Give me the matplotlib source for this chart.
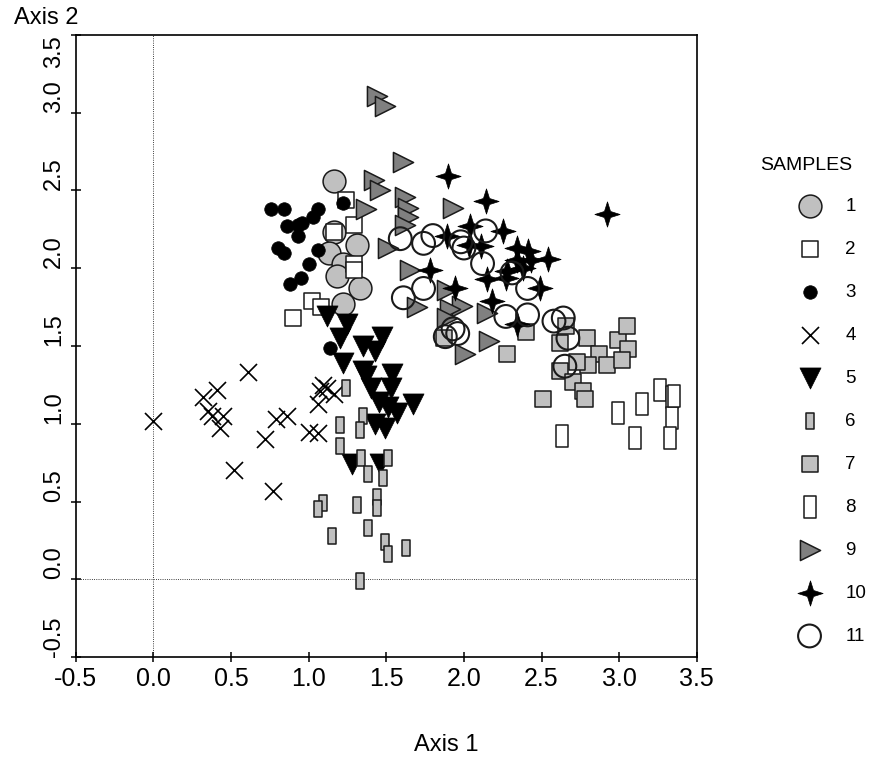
import numpy as np
import matplotlib
matplotlib.use('Agg')
import matplotlib.pyplot as plt
from matplotlib.path import Path

plt.rcParams['font.family'] = ['Liberation Sans', 'DejaVu Sans']

# Puntos de cada muestra (Axis 1, Axis 2)
x1 = [1.16, 1.16, 1.31, 1.13, 1.22, 1.18, 1.33, 1.22]
y1 = [2.56, 2.23, 2.15, 2.10, 2.03, 1.95, 1.87, 1.77]

x2 = [1.24, 1.29, 1.16, 1.29, 1.29, 1.02, 1.08, 0.90]
y2 = [2.44, 2.28, 2.23, 2.03, 1.99, 1.79, 1.75, 1.68]

x3 = [0.76, 0.84, 0.86, 0.93, 0.96, 0.93, 1.06, 1.03, 1.22, 0.80, 0.84, 1.00, 1.06, 0.95, 0.88, 1.14]
y3 = [2.38, 2.38, 2.27, 2.28, 2.29, 2.21, 2.38, 2.33, 2.42, 2.13, 2.10, 2.03, 2.12, 1.94, 1.90, 1.49]

x4 = [0.00, 0.32, 0.41, 0.61, 0.35, 0.38, 0.45, 0.43, 0.52, 0.72,
      0.77, 0.79, 0.86, 1.00, 1.06, 1.06, 1.09, 1.07, 1.16, 1.12]
y4 = [1.02, 1.17, 1.22, 1.33, 1.08, 1.05, 1.05, 0.97, 0.70, 0.90,
      0.57, 1.03, 1.05, 0.95, 0.94, 1.13, 1.25, 1.21, 1.19, 1.23]

x5 = [1.12, 1.25, 1.20, 1.35, 1.43, 1.47, 1.22, 1.35, 1.40, 1.54,
      1.53, 1.51, 1.57, 1.67, 1.43, 1.49, 1.28, 1.46, 1.45, 1.37]
y5 = [1.69, 1.64, 1.55, 1.50, 1.47, 1.56, 1.39, 1.34, 1.23, 1.32,
      1.23, 1.11, 1.07, 1.13, 1.00, 0.97, 0.74, 0.74, 1.14, 1.31]

x6 = [1.24, 1.35, 1.20, 1.33, 1.20, 1.34, 1.51, 1.38, 1.48, 1.09,
      1.06, 1.31, 1.44, 1.44, 1.38, 1.15, 1.49, 1.51, 1.63, 1.33]
y6 = [1.23, 1.05, 0.99, 0.96, 0.86, 0.78, 0.78, 0.68, 0.65, 0.49,
      0.45, 0.48, 0.53, 0.46, 0.33, 0.28, 0.24, 0.16, 0.20, -0.01]

x7 = [2.40, 2.28, 2.62, 2.66, 2.79, 2.87, 2.99, 3.05, 3.06, 2.92,
      3.02, 2.80, 2.73, 2.62, 2.70, 2.77, 2.78, 2.51, 1.87]
y7 = [1.59, 1.45, 1.52, 1.63, 1.55, 1.45, 1.54, 1.63, 1.48, 1.38,
      1.41, 1.38, 1.40, 1.34, 1.27, 1.21, 1.16, 1.16, 1.55]

x8 = [2.63, 2.99, 3.10, 3.15, 3.26, 3.34, 3.34, 3.33, 3.35]
y8 = [0.92, 1.07, 0.91, 1.13, 1.22, 1.17, 1.04, 0.91, 1.18]

x9 = [1.44, 1.49, 1.61, 1.42, 1.46, 1.37, 1.62, 1.64, 1.64, 1.62, 1.93,
      1.51, 1.65, 1.70, 1.89, 1.99, 1.91, 1.89, 2.15, 2.16, 2.01]
y9 = [3.11, 3.04, 2.68, 2.57, 2.50, 2.38, 2.46, 2.39, 2.33, 2.28, 2.39,
      2.13, 1.99, 1.75, 1.86, 1.76, 1.74, 1.68, 1.71, 1.53, 1.45]

x10 = [1.90, 2.14, 2.92, 2.04, 2.25, 1.89, 2.03, 2.11, 2.34, 2.41, 2.54,
       2.34, 2.43, 1.78, 1.94, 2.15, 2.27, 2.49, 2.18, 2.38, 2.28, 2.34]
y10 = [2.59, 2.43, 2.35, 2.27, 2.24, 2.21, 2.15, 2.14, 2.13, 2.11, 2.06,
       2.05, 2.05, 1.99, 1.87, 1.93, 1.94, 1.87, 1.79, 2.00, 1.98, 1.64]

x11 = [1.59, 1.74, 1.80, 1.98, 2.14, 2.00, 2.12, 2.31, 2.41, 1.74,
       1.61, 1.93, 1.96, 1.88, 2.27, 2.41, 2.58, 2.64, 2.67, 2.65]
y11 = [2.19, 2.16, 2.21, 2.17, 2.24, 2.13, 2.03, 1.97, 1.87, 1.87,
       1.81, 1.61, 1.58, 1.56, 1.69, 1.70, 1.66, 1.68, 1.55, 1.37]

labels = ['1', '2', '3', '4', '5', '6', '7', '8', '9', '10', '11']

# marcadores propios
rect_fino = Path([(-0.27, -0.5), (0.27, -0.5), (0.27, 0.5), (-0.27, 0.5), (-0.27, -0.5)],
                 [Path.MOVETO, Path.LINETO, Path.LINETO, Path.LINETO, Path.CLOSEPOLY])
rect_ancho = Path([(-0.26, -0.5), (0.26, -0.5), (0.26, 0.5), (-0.26, 0.5), (-0.26, -0.5)],
                  [Path.MOVETO, Path.LINETO, Path.LINETO, Path.LINETO, Path.CLOSEPOLY])
k = 0.24
estrella = Path([(0, 1), (k, k), (1, 0), (k, -k), (0, -1), (-k, -k), (-1, 0), (-k, k), (0, 1)],
                [Path.MOVETO] + [Path.LINETO] * 7 + [Path.CLOSEPOLY])

fig, ax = plt.subplots(figsize=(8.71, 7.6), dpi=100)
fig.subplots_adjust(left=0.087, right=0.800, bottom=0.1355, top=0.954)

ax.axvline(0, color='black', lw=0.6, ls=':', zorder=0)
ax.axhline(0, color='black', lw=0.6, ls=':', zorder=0)

ec = '#1a1a1a'
ax.scatter(x1, y1, s=270, marker='o', facecolor='#c0c0c0', edgecolor=ec, linewidths=1.1, label=labels[0])
ax.scatter(x2, y2, s=125, marker='s', facecolor='white', edgecolor=ec, linewidths=1.1, label=labels[1])
ax.scatter(x3, y3, s=95, marker='o', facecolor='black', edgecolor='black', linewidths=0.5, label=labels[2])
ax.scatter(x4, y4, s=150, marker='x', color='black', linewidths=1.2, label=labels[3])
ax.scatter(x5, y5, s=230, marker='v', facecolor='black', edgecolor='black', linewidths=0.5, label=labels[4])
ax.scatter(x6, y6, s=120, marker=rect_fino, facecolor='#c0c0c0', edgecolor=ec, linewidths=1.1, label=labels[5])
ax.scatter(x7, y7, s=125, marker='s', facecolor='#c0c0c0', edgecolor=ec, linewidths=1.1, label=labels[6])
ax.scatter(x8, y8, s=235, marker=rect_ancho, facecolor='white', edgecolor=ec, linewidths=1.1, label=labels[7])
ax.scatter(x9, y9, s=210, marker='>', facecolor='#808080', edgecolor=ec, linewidths=1.1, label=labels[8])
ax.scatter(x10, y10, s=330, marker=estrella, facecolor='black', edgecolor='black', linewidths=0.5, label=labels[9])
ax.scatter(x11, y11, s=270, marker='o', facecolor='none', edgecolor=ec, linewidths=1.5, label=labels[10])

ax.set_xlim(-0.5, 3.5)
ax.set_ylim(-0.5, 3.5)
ax.set_xticks(np.arange(-0.5, 3.51, 0.5))
ax.set_yticks(np.arange(-0.5, 3.51, 0.5))
ax.xaxis.set_major_formatter(plt.FormatStrFormatter('%.1f'))
ax.yaxis.set_major_formatter(plt.FormatStrFormatter('%.1f'))
ax.tick_params(direction='inout', length=7, width=1.1, labelsize=18, pad=4)
ax.tick_params(axis='y', labelsize=17)
ylabs = ax.get_yticklabels()
for lab in ylabs:
    lab.set_rotation(90)
    lab.set_rotation_mode('anchor')
    lab.set_ha('left')
    lab.set_va('bottom')
ylabs[-1].set_ha('right')
for sp in ax.spines.values():
    sp.set_linewidth(1.2)

ax.set_xlabel('Axis 1', fontsize=17)
ax.xaxis.set_label_coords(0.597, -0.141)
ax.xaxis.label.set_va('center')
ax.set_ylabel('Axis 2', fontsize=17, rotation=0)
ax.yaxis.set_label_coords(-0.047, 1.027)
ax.yaxis.label.set_va('center')
ax.yaxis.label.set_ha('center')

leg = ax.legend(loc='upper left', bbox_to_anchor=(0.8885, 0.762),
                bbox_transform=fig.transFigure, frameon=False, fontsize=13.5,
                scatterpoints=1, labelspacing=1.38, handletextpad=0.9)
fig.text(806 / 871, 1 - 165 / 760, 'SAMPLES', fontsize=14, ha='center', va='center')

fig.savefig('out.png', dpi=100)
